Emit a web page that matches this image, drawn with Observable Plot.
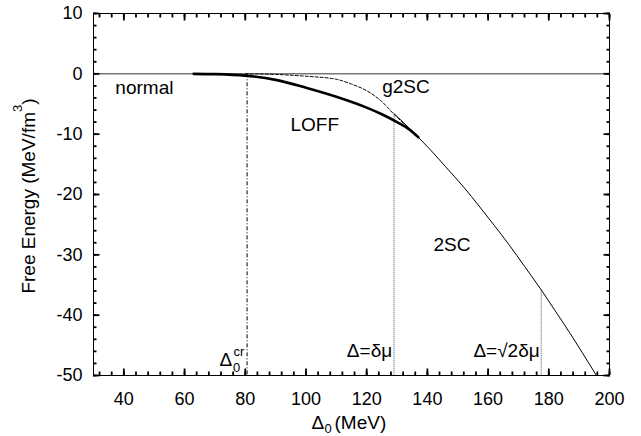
<!DOCTYPE html>
<html><head><meta charset="utf-8">
<script src="https://cdn.jsdelivr.net/npm/d3@7"></script>
<script src="https://cdn.jsdelivr.net/npm/@observablehq/plot@0.6"></script>
<style>body{margin:0;background:#fff} svg{display:block}</style>
</head><body><div id="chart"></div>
<script>
// tick values
const xTicks = [40, 60, 80, 100, 120, 140, 160, 180, 200];
const yTicks = [10, 0, -10, -20, -30, -40, -50];
const xMinorTicks = d3.range(32, 201, 4);
const yMinorTicks = d3.range(-50, 11, 2);

// series
const normalX = [30, 200];
const normalY = [0, 0];
const loffX = [63, 70, 80, 90, 100, 110, 120, 125, 130, 134, 137];
const loffY = [0, -0.05, -0.3, -1.0, -2.3, -3.8, -5.6, -6.7, -8.0, -9.2, -10.5];
const g2scX = [80, 90, 100, 110, 115, 120, 125, 129, 133, 137];
const g2scY = [0, -0.1, -0.4, -0.9, -1.7, -2.8, -4.6, -6.7, -8.6, -10.6];
const twoScX = [129, 133, 137, 141, 146, 152, 157, 162, 167, 172, 177.5, 182, 187, 191, 195.7];
const twoScY = [-6.6, -8.5, -10.5, -12.6, -15.4, -18.8, -21.9, -25.1, -28.4, -31.9, -35.8, -39.2, -43.0, -46.2, -50];

// vertical markers
const critX = 80.6, critTop = 0;
const dmuX = 129, dmuTop = -6.7;
const sq2dmuX = 177.5, sq2dmuTop = -35.8;

const toRows = (X, Y) => X.map((x, i) => ({x, y: Y[i]}));

const labels = [
  {x: 37.2, y: -3.27, t: "normal", anchor: "start"},
  {x: 125.1, y: -3.1, t: "g2SC", anchor: "start"},
  {x: 94.9, y: -9.4, t: "LOFF", anchor: "start"},
  {x: 142, y: -29.4, t: "2SC", anchor: "start"},
  {x: 128.4, y: -46.9, t: "Δ=δμ", anchor: "end"},
  {x: 177, y: -46.9, t: "Δ=√2δμ", anchor: "end"},
  {x: 71.5, y: -48.37, t: "Δ", anchor: "start"}
];
const smallLabels = [
  {x: 76.0, y: -49.45, t: "0"},
  {x: 76.1, y: -46.7, t: "cr"}
];

const font = "Liberation Sans, Arial, Helvetica, sans-serif";
const X0 = 30, X1 = 200, Y0 = -50, Y1 = 10;
const W = 641, H = 436, mL = 93, mR = 32, mT = 13, mB = 61;
const MAJ = 6.5, MIN = 3.5, TW = 1.8;

// inward ticks: outward axis ticks shifted back inside the frame
const ticksX = (vals, len) => [
  Plot.axisX({ticks: vals, anchor: "bottom", tickSize: len, dy: -len, strokeWidth: TW, stroke: "#000", text: null, label: null}),
  Plot.axisX({ticks: vals, anchor: "top", tickSize: len, dy: len, strokeWidth: TW, stroke: "#000", text: null, label: null})
];
const ticksY = (vals, len) => [
  Plot.axisY({ticks: vals, anchor: "left", tickSize: len, dx: len, strokeWidth: TW, stroke: "#000", text: null, label: null}),
  Plot.axisY({ticks: vals, anchor: "right", tickSize: len, dx: -len, strokeWidth: TW, stroke: "#000", text: null, label: null})
];

const chart = Plot.plot({
  width: W,
  height: H,
  marginLeft: mL,
  marginRight: mR,
  marginTop: mT,
  marginBottom: mB,
  style: {fontFamily: font, fontSize: "18px", color: "#000", background: "#fff"},
  x: {domain: [X0, X1]},
  y: {domain: [Y0, Y1]},
  marks: [
    Plot.line(toRows(normalX, normalY), {x: "x", y: "y", stroke: "#333", strokeWidth: 1}),
    Plot.ruleX([critX], {y1: critTop, y2: Y0, stroke: "#000", strokeWidth: 1, strokeDasharray: "4,2,1,2"}),
    Plot.ruleX([dmuX], {y1: dmuTop, y2: Y0, stroke: "#555", strokeWidth: 1, strokeDasharray: "1,1"}),
    Plot.ruleX([sq2dmuX], {y1: sq2dmuTop, y2: Y0, stroke: "#555", strokeWidth: 1, strokeDasharray: "1,1"}),
    Plot.line(toRows(g2scX, g2scY), {x: "x", y: "y", stroke: "#000", strokeWidth: 1, strokeDasharray: "3,2", curve: "monotone-x"}),
    Plot.line(toRows(twoScX, twoScY), {x: "x", y: "y", stroke: "#000", strokeWidth: 1, curve: "monotone-x", clip: true}),
    Plot.line(toRows(loffX, loffY), {x: "x", y: "y", stroke: "#000", strokeWidth: 2.6, curve: "monotone-x"}),
    ...ticksX(xMinorTicks, MIN),
    ...ticksX(xTicks, MAJ),
    ...ticksY(yMinorTicks, MIN),
    ...ticksY(yTicks, MAJ),
    Plot.frame({stroke: "#000", strokeWidth: 1}),
    // tick labels
    Plot.axisX({ticks: xTicks, anchor: "bottom", tickSize: 0, tickPadding: 16.5, label: null, fontSize: 18, tickFormat: d => String(d)}),
    Plot.axisY({ticks: yTicks, anchor: "left", tickSize: 0, tickPadding: 11, label: null, fontSize: 18, tickFormat: d => String(d)}),
    // in-plot labels
    Plot.text(labels, {x: "x", y: "y", text: "t", textAnchor: "start", lineAnchor: "bottom", fontSize: 19, fill: "#000", filter: d => d.anchor === "start"}),
    Plot.text(labels, {x: "x", y: "y", text: "t", textAnchor: "end", lineAnchor: "bottom", fontSize: 19, fill: "#000", filter: d => d.anchor === "end"}),
    Plot.text(smallLabels, {x: "x", y: "y", text: "t", textAnchor: "start", lineAnchor: "bottom", fontSize: 13, fill: "#000"}),
    // x axis label: Δ0 (MeV)
    Plot.text(["Δ"], {frameAnchor: "bottom", dx: -40, dy: 53.5, textAnchor: "start", lineAnchor: "bottom", fontSize: 19}),
    Plot.text(["0"], {frameAnchor: "bottom", dx: -27, dy: 57.5, textAnchor: "start", lineAnchor: "bottom", fontSize: 13}),
    Plot.text(["(MeV)"], {frameAnchor: "bottom", dx: -17, dy: 53.5, textAnchor: "start", lineAnchor: "bottom", fontSize: 19}),
    // y axis label: Free Energy (MeV/fm3)
    Plot.text(["Free Energy (MeV/fm"], {frameAnchor: "top-left", dx: -59, dy: 98.5, rotate: -90, textAnchor: "end", lineAnchor: "bottom", fontSize: 19}),
    Plot.text(["3"], {frameAnchor: "top-left", dx: -72, dy: 98.5, rotate: -90, textAnchor: "start", lineAnchor: "bottom", fontSize: 13}),
    Plot.text([")"], {frameAnchor: "top-left", dx: -59, dy: 91.3, rotate: -90, textAnchor: "start", lineAnchor: "bottom", fontSize: 19})
  ]
});
document.getElementById("chart").appendChild(chart);
</script>
</body></html>
